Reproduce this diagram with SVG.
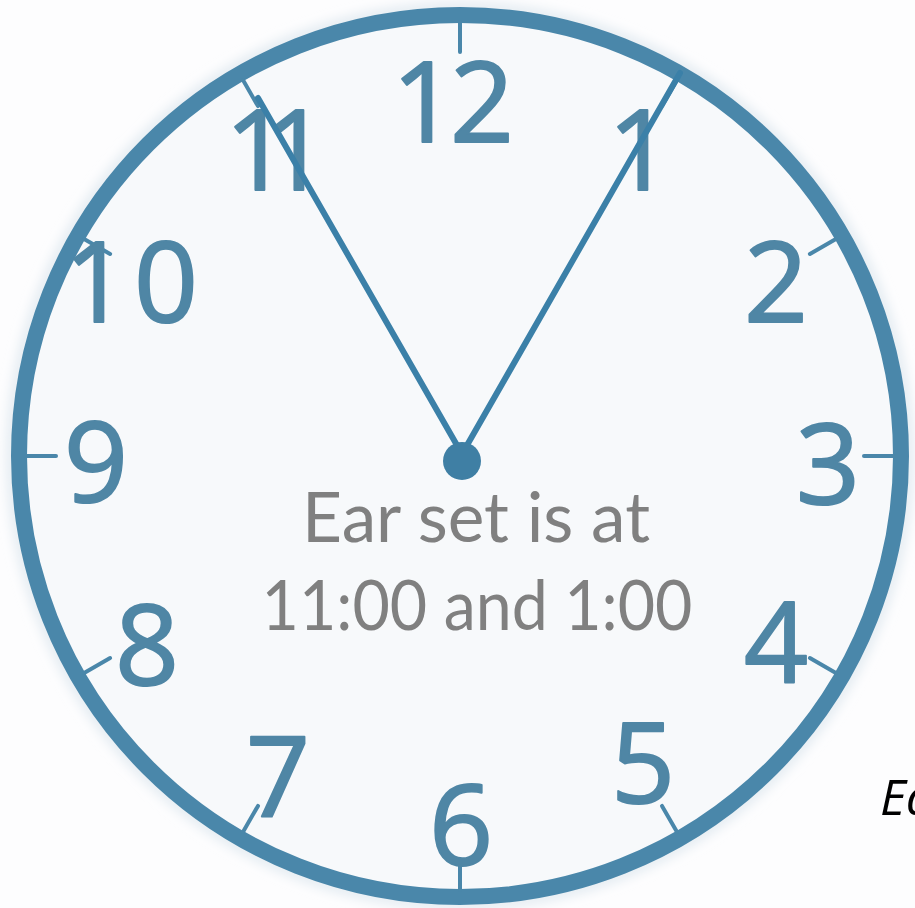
<svg xmlns="http://www.w3.org/2000/svg" width="915" height="908" viewBox="0 0 915 908">
  <style>
    .num { font-family: "Open Sans", "Liberation Sans", sans-serif; font-size: 112px; fill: #4f86a5; stroke: #4f86a5; stroke-width: 2; stroke-linejoin: round; text-anchor: middle; }
    .pair { text-anchor: start; }
    .tick { stroke: #4a87aa; stroke-width: 4; stroke-linecap: round; }
    .hand { stroke: #3b80a8; stroke-width: 6; stroke-linecap: round; fill: none; }
    .label { font-family: "Lato", "Open Sans", sans-serif; font-size: 70px; fill: #808080; text-anchor: middle; }
    .side { font-family: "Open Sans", "Liberation Sans", sans-serif; font-style: italic; font-size: 50px; fill: #000000; }
  </style>
  <defs>
    <filter id="soft" x="-10%" y="-10%" width="120%" height="120%">
      <feGaussianBlur stdDeviation="6"/>
    </filter>
  </defs>
  <rect width="915" height="908" fill="#fdfdfe"/>
  <g id="clock-face">
    <circle cx="460" cy="456" r="448" fill="none" stroke="#dfe8ef" stroke-width="10" filter="url(#soft)"/>
    <circle cx="460" cy="456" r="441" fill="#f7f9fb" stroke="#4a87aa" stroke-width="16"/>
  </g>
  <g id="ticks">
    <line class="tick" x1="460" y1="22" x2="460" y2="52"/>
    <line class="tick" x1="677" y1="80.1" x2="662" y2="106.1"/>
    <line class="tick" x1="835.9" y1="239" x2="809.9" y2="254"/>
    <line class="tick" x1="894" y1="456" x2="864" y2="456"/>
    <line class="tick" x1="835.9" y1="673" x2="809.9" y2="658"/>
    <line class="tick" x1="677" y1="831.9" x2="662" y2="805.9"/>
    <line class="tick" x1="460" y1="890" x2="460" y2="860"/>
    <line class="tick" x1="243" y1="831.9" x2="258" y2="805.9"/>
    <line class="tick" x1="84.1" y1="673" x2="110.1" y2="658"/>
    <line class="tick" x1="26" y1="456" x2="56" y2="456"/>
    <line class="tick" x1="84.1" y1="239" x2="110.1" y2="254"/>
    <line class="tick" x1="243" y1="80.1" x2="258" y2="106.1"/>
  </g>
  <g id="numbers">
    <g id="n12"><text class="num pair" x="392" y="142" letter-spacing="-6">12</text></g>
    <g id="n1"><text class="num" x="640" y="190">1</text></g>
    <g id="n2"><text class="num" x="776" y="322">2</text></g>
    <g id="n3"><text class="num" x="828" y="504">3</text></g>
    <g id="n4"><text class="num" x="776" y="683">4</text></g>
    <g id="n5"><text class="num" x="643" y="803">5</text></g>
    <g id="n6"><text class="num" x="461" y="865">6</text></g>
    <g id="n7"><text class="num" x="278" y="817">7</text></g>
    <g id="n8"><text class="num" x="147" y="685">8</text></g>
    <g id="n9"><text class="num" x="96" y="502">9</text></g>
    <g id="n10"><text class="num pair" x="64" y="322" letter-spacing="6">10</text></g>
    <g id="n11"><text class="num pair" x="225" y="190" letter-spacing="-25">11</text></g>
  </g>
  <g id="hands">
    <line class="hand" x1="462" y1="454" x2="258" y2="98"/>
    <line class="hand" x1="462" y1="454" x2="680" y2="73"/>
    <circle cx="462" cy="461" r="19" fill="#3f7fa4"/>
  </g>
  <g id="caption">
    <text class="label" x="476" y="542" textLength="348" lengthAdjust="spacingAndGlyphs">Ear set is at</text>
    <text class="label" x="477" y="630" textLength="431" lengthAdjust="spacingAndGlyphs">11:00 and 1:00</text>
  </g>
  <g id="side-text">
    <text class="side" x="880" y="815">Ea</text>
  </g>
</svg>
